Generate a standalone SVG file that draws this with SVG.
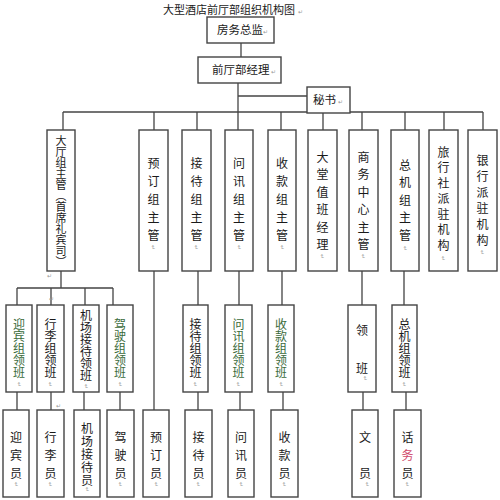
<svg xmlns="http://www.w3.org/2000/svg" width="500" height="500" viewBox="0 0 500 500">
<style>
  .box{fill:#ffffff;stroke:#444444;stroke-width:1.4}
  .ln{fill:none;stroke:#444444;stroke-width:1.3}
  .h{font-family:"Noto Sans CJK SC","Noto Sans",sans-serif;font-size:11.5px;fill:#1a1a1a}
  .v{font-family:"Noto Sans CJK SC","Noto Sans",sans-serif;font-size:12px;fill:#1a1a1a;writing-mode:vertical-rl}
  .g{fill:#3b6b3b}
  .r{fill:#d04a6a}
  .pm{font-family:"DejaVu Sans",sans-serif;font-size:6px;fill:#999999}
  .pmv{font-family:"DejaVu Sans",sans-serif;font-size:6px;fill:#999999;writing-mode:vertical-rl}
</style>
<rect width="500" height="500" fill="#ffffff"/>

<g id="title">
  <text class="h" x="163" y="14" style="font-size:11px">大型酒店前厅部组织机构图</text>
  <text class="pm" x="298" y="14">↵</text>
</g>

<g id="connectors">
  <line class="ln" x1="241" y1="43" x2="241" y2="57"/>
  <line class="ln" x1="238" y1="83" x2="238" y2="112"/>
  <line class="ln" x1="238" y1="96" x2="307" y2="96"/>
  <line class="ln" x1="63" y1="112" x2="483" y2="112"/>
  <path class="ln" d="M63 112V130M154 112V130M197 112V130M238 112V130M281 112V130M323 112V130M362 112V130M405 112V130M444 112V130M483 112V130"/>
  <path class="ln" d="M61 271V288M17 288H113M17 288V305M51 288V305M85 288V305M113 288V305"/>
  <path class="ln" d="M17 392V410M51 392V410M84 392V410M120 392V410"/>
  <path class="ln" d="M154 271V410"/>
  <path class="ln" d="M198 271V305M198 392V410"/>
  <path class="ln" d="M239 271V305M240 392V410"/>
  <path class="ln" d="M282 271V305M283 392V410"/>
  <path class="ln" d="M362 271V305M363 392V410"/>
  <path class="ln" d="M404 271V305M406 392V410"/>
  <text class="pm" x="47" y="278">↵</text>
  <text class="pm" x="49" y="301">↵</text>
  <text class="pm" x="56" y="408">↵</text>
</g>

<g id="n-fangwu">
  <rect class="box" x="207" y="17" width="67" height="26"/>
  <text class="h" x="217" y="34">房务总监</text>
  <text class="pm" x="263" y="34">↵</text>
</g>
<g id="n-qianting">
  <rect class="box" x="198" y="57" width="83" height="26"/>
  <text class="h" x="212" y="74">前厅部经理</text>
  <text class="pm" x="271" y="74">↵</text>
</g>
<g id="n-mishu">
  <rect class="box" x="307" y="87" width="43" height="26"/>
  <text class="h" x="313" y="104">秘书</text>
  <text class="pm" x="338" y="104">↵</text>
</g>

<!-- Row 1 -->
<g id="n-dating">
  <rect class="box" x="47" y="130" width="28" height="141"/>
  <text class="v" x="61" y="135" style="font-size:11px">大厅组主管（首席礼宾司）</text>
</g>
<g id="n-yuding">
  <rect class="box" x="139" y="130" width="29" height="141"/>
  <text class="v" x="153.5" y="157" letter-spacing="6">预订组主管</text>
  <text class="pmv" x="153.5" y="245">↵</text>
</g>
<g id="n-jiedai">
  <rect class="box" x="182" y="130" width="29" height="141"/>
  <text class="v" x="196.5" y="157" letter-spacing="6">接待组主管</text>
  <text class="pmv" x="196.5" y="245">↵</text>
</g>
<g id="n-wenxun">
  <rect class="box" x="225" y="130" width="28" height="141"/>
  <text class="v" x="239" y="157" letter-spacing="6">问讯组主管</text>
  <text class="pmv" x="239" y="245">↵</text>
</g>
<g id="n-shoukuan">
  <rect class="box" x="268" y="130" width="28" height="141"/>
  <text class="v" x="282" y="157" letter-spacing="6">收款组主管</text>
  <text class="pmv" x="282" y="245">↵</text>
</g>
<g id="n-datang">
  <rect class="box" x="308" y="130" width="29" height="141"/>
  <text class="v" x="322.5" y="151" letter-spacing="5.5">大堂值班经理</text>
  <text class="pmv" x="322.5" y="254">↵</text>
</g>
<g id="n-shangwu">
  <rect class="box" x="349" y="130" width="29" height="141"/>
  <text class="v" x="363.5" y="151" letter-spacing="5.5">商务中心主管</text>
  <text class="pmv" x="363.5" y="254">↵</text>
</g>
<g id="n-zongji">
  <rect class="box" x="391" y="130" width="28" height="141"/>
  <text class="v" x="405" y="159" letter-spacing="5.5">总机组主管</text>
  <text class="pmv" x="405" y="246">↵</text>
</g>
<g id="n-lvxingshe">
  <rect class="box" x="429" y="130" width="29" height="141"/>
  <text class="v" x="443.5" y="146" letter-spacing="3.5">旅行社派驻机构</text>
  <text class="pmv" x="443.5" y="256">↵</text>
</g>
<g id="n-yinhang">
  <rect class="box" x="468" y="130" width="29" height="141"/>
  <text class="v" x="482.5" y="154" letter-spacing="4">银行派驻机构</text>
  <text class="pmv" x="482.5" y="250">↵</text>
</g>

<!-- Row 2 -->
<g id="n-yingbin-lb">
  <rect class="box" x="6" y="305" width="26" height="87"/>
  <text class="v g" x="19" y="318">迎宾组领班</text>
  <text class="pmv" x="19" y="382">↵</text>
</g>
<g id="n-xingli-lb">
  <rect class="box" x="37" y="305" width="27" height="87"/>
  <text class="v" x="50.5" y="318">行李组领班</text>
  <text class="pmv" x="50.5" y="382">↵</text>
</g>
<g id="n-jichang-lb">
  <rect class="box" x="73" y="305" width="26" height="87"/>
  <text class="v" x="86" y="309">机场接待领班</text>
  <text class="pmv" x="86" y="384">↵</text>
</g>
<g id="n-jiashi-lb">
  <rect class="box" x="107" y="305" width="26" height="87"/>
  <text class="v g" x="120" y="318">驾驶组领班</text>
  <text class="pmv" x="120" y="382">↵</text>
</g>
<g id="n-jiedai-lb">
  <rect class="box" x="183" y="305" width="25" height="87"/>
  <text class="v" x="195.5" y="318">接待组领班</text>
  <text class="pmv" x="195.5" y="382">↵</text>
</g>
<g id="n-wenxun-lb">
  <rect class="box" x="225" y="305" width="27" height="87"/>
  <text class="v g" x="238.5" y="318">问讯组领班</text>
  <text class="pmv" x="238.5" y="382">↵</text>
</g>
<g id="n-shoukuan-lb">
  <rect class="box" x="268" y="305" width="26" height="87"/>
  <text class="v g" x="281" y="318">收款组领班</text>
  <text class="pmv" x="281" y="382">↵</text>
</g>
<g id="n-lingban">
  <rect class="box" x="348" y="305" width="28" height="87"/>
  <text class="v" x="362" y="324">领<tspan y="362">班</tspan></text>
  <text class="pmv" x="365" y="376">↵</text>
</g>
<g id="n-zongji-lb">
  <rect class="box" x="392" y="305" width="25" height="87"/>
  <text class="v" x="404.5" y="318">总机组领班</text>
  <text class="pmv" x="404.5" y="382">↵</text>
</g>

<!-- Row 3 -->
<g id="n-yingbin-y">
  <rect class="box" x="3" y="410" width="26" height="87"/>
  <text class="v" x="16" y="431" letter-spacing="6">迎宾员</text>
  <text class="pmv" x="16" y="482">↵</text>
</g>
<g id="n-xingli-y">
  <rect class="box" x="37" y="410" width="27" height="87"/>
  <text class="v" x="50.5" y="431" letter-spacing="6">行李员</text>
  <text class="pmv" x="50.5" y="482">↵</text>
</g>
<g id="n-jichang-y">
  <rect class="box" x="74" y="410" width="26" height="87"/>
  <text class="v" x="87" y="422" letter-spacing="1">机场接待员</text>
  <text class="pmv" x="87" y="487">↵</text>
</g>
<g id="n-jiashi-y">
  <rect class="box" x="107" y="410" width="27" height="87"/>
  <text class="v" x="120.5" y="431" letter-spacing="6">驾驶员</text>
  <text class="pmv" x="120.5" y="482">↵</text>
</g>
<g id="n-yuding-y">
  <rect class="box" x="143" y="410" width="26" height="87"/>
  <text class="v" x="156" y="431" letter-spacing="6">预订员</text>
  <text class="pmv" x="156" y="482">↵</text>
</g>
<g id="n-jiedai-y">
  <rect class="box" x="185" y="410" width="27" height="87"/>
  <text class="v" x="198.5" y="431" letter-spacing="6">接待员</text>
  <text class="pmv" x="198.5" y="482">↵</text>
</g>
<g id="n-wenxun-y">
  <rect class="box" x="228" y="410" width="26" height="87"/>
  <text class="v" x="241" y="431" letter-spacing="6">问讯员</text>
  <text class="pmv" x="241" y="482">↵</text>
</g>
<g id="n-shoukuan-y">
  <rect class="box" x="271" y="410" width="27" height="87"/>
  <text class="v" x="284.5" y="431" letter-spacing="6">收款员</text>
  <text class="pmv" x="284.5" y="482">↵</text>
</g>
<g id="n-wenyuan">
  <rect class="box" x="352" y="410" width="26" height="87"/>
  <text class="v" x="365" y="431">文<tspan y="467">员</tspan></text>
  <text class="pmv" x="367" y="482">↵</text>
</g>
<g id="n-huawu">
  <rect class="box" x="394" y="410" width="27" height="87"/>
  <text class="v" x="407.5" y="431" letter-spacing="6">话<tspan class="r">务</tspan>员</text>
  <text class="pmv" x="407.5" y="482">↵</text>
</g>
</svg>
